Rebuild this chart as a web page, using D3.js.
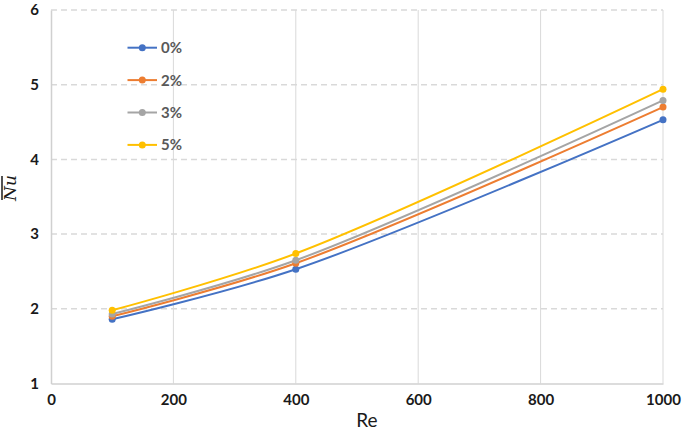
<!DOCTYPE html>
<html><head><meta charset="utf-8">
<script src="https://cdn.jsdelivr.net/npm/d3@7"></script>
<style>body{margin:0;background:#fff}svg{display:block}</style>
</head><body>
<svg id="c" width="685" height="430"></svg>
<script>
const reValues = [100, 400, 1000];
const seriesNames = ["0%", "2%", "3%", "5%"];
const nu0 = [1.86, 2.53, 4.53];
const nu2 = [1.90, 2.61, 4.70];
const nu3 = [1.93, 2.65, 4.79];
const nu5 = [1.98, 2.74, 4.94];
const colors = ["#4472C4", "#ED7D31", "#A5A5A5", "#FFC000"];
const xTicks = [0, 200, 400, 600, 800, 1000];
const yTicks = [1, 2, 3, 4, 5, 6];

const series = [nu0, nu2, nu3, nu5].map((v, i) => ({name: seriesNames[i], color: colors[i], pts: v.map((y, j) => [reValues[j], y])}));

const svg = d3.select("#c");
const x = d3.scaleLinear().domain([0, 1000]).range([51, 663]);
const y = d3.scaleLinear().domain([1, 6]).range([383.5, 10]);
const font = "Lato, 'Open Sans', sans-serif";

// grid
svg.append("g").selectAll("line").data(xTicks.slice(1)).join("line")
  .attr("x1", d => x(d)).attr("x2", d => x(d)).attr("y1", y(6)).attr("y2", y(1))
  .attr("stroke", "#d9d9d9").attr("stroke-width", 1);
svg.append("g").selectAll("line").data(yTicks.slice(1)).join("line")
  .attr("x1", x(0)).attr("x2", x(1000)).attr("y1", d => y(d)).attr("y2", d => y(d))
  .attr("stroke", "#d9d9d9").attr("stroke-width", 1.5).attr("stroke-dasharray", "6,4");

// axes
const xAxis = svg.append("g").attr("transform", `translate(0,${y(1)})`)
  .call(d3.axisBottom(x).tickValues(xTicks).tickFormat(d3.format("d")).tickSize(0).tickPadding(11));
xAxis.select(".domain").attr("stroke", "#d0d0d0").attr("stroke-width", 1.5);
const yAxis = svg.append("g").attr("transform", `translate(${x(0)},0)`)
  .call(d3.axisLeft(y).tickValues(yTicks).tickFormat(d3.format("d")).tickSize(0).tickPadding(12));
yAxis.select(".domain").attr("stroke", "#d0d0d0").attr("stroke-width", 1.5);
svg.selectAll(".tick text").attr("font-family", font)
  .attr("font-size", 15).attr("font-weight", "bold").attr("fill", "#1a1a1a");

// lines
const line = d3.line().x(d => x(d[0])).y(d => y(d[1])).curve(d3.curveCatmullRom.alpha(0.5));
series.forEach(s => {
  svg.append("path").attr("d", line(s.pts)).attr("fill", "none")
    .attr("stroke", s.color).attr("stroke-width", 2);
});
series.forEach(s => {
  svg.append("g").selectAll("circle").data(s.pts).join("circle")
    .attr("cx", d => x(d[0])).attr("cy", d => y(d[1])).attr("r", 3.5).attr("fill", s.color);
});

// legend
const lg = svg.append("g");
series.forEach((s, i) => {
  const ly = 47.7 + i * 32.4;
  lg.append("line").attr("x1", 127.5).attr("x2", 157).attr("y1", ly).attr("y2", ly)
    .attr("stroke", s.color).attr("stroke-width", 2);
  lg.append("circle").attr("cx", 142.3).attr("cy", ly).attr("r", 3.5).attr("fill", s.color);
  lg.append("text").attr("x", 161).attr("y", ly).attr("dy", "0.36em")
    .attr("font-family", font).attr("font-size", 15)
    .attr("font-weight", "bold").attr("fill", "#595959").text(s.name);
});

// axis titles
svg.append("text").attr("x", 367).attr("y", 427).attr("text-anchor", "middle")
  .attr("font-family", font).attr("font-size", 19)
  .attr("fill", "#1a1a1a").text("Re");
const yl = svg.append("g").attr("transform", "translate(16,188) rotate(-90)");
yl.append("text").attr("text-anchor", "middle")
  .attr("font-family", "'DejaVu Serif', serif").attr("font-style", "italic").attr("font-size", 17)
  .attr("fill", "#1a1a1a").text("Nu");
yl.append("line").attr("x1", -12).attr("x2", 12).attr("y1", -14).attr("y2", -14)
  .attr("stroke", "#1a1a1a").attr("stroke-width", 1.5);
</script>
</body></html>
